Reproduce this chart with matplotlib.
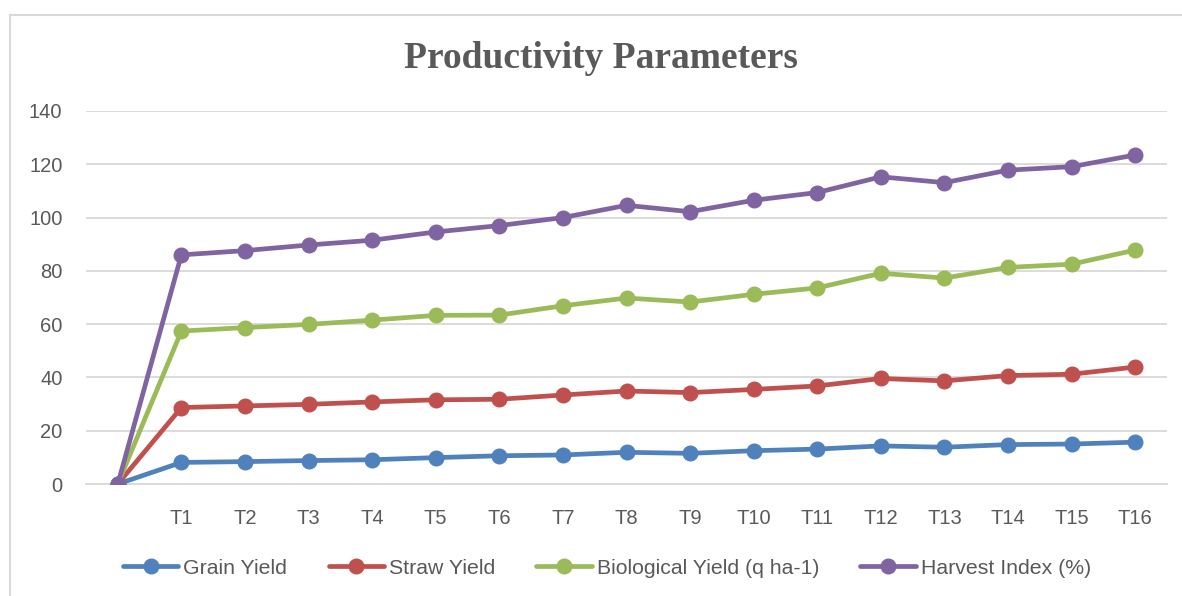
import matplotlib
matplotlib.use("Agg")
import matplotlib.pyplot as plt
from matplotlib.lines import Line2D

categories = ["", "T1", "T2", "T3", "T4", "T5", "T6", "T7", "T8", "T9", "T10",
              "T11", "T12", "T13", "T14", "T15", "T16"]
grain_yield = [0, 8.1, 8.4, 8.8, 9.1, 9.9, 10.6, 10.9, 11.9, 11.5, 12.5,
               13.1, 14.3, 13.8, 14.8, 15.0, 15.7]
straw_yield = [0, 28.7, 29.3, 29.9, 30.8, 31.6, 31.8, 33.4, 34.9, 34.3, 35.5,
               36.8, 39.6, 38.7, 40.7, 41.2, 43.9]
biological_yield = [0, 57.4, 58.7, 59.9, 61.5, 63.3, 63.4, 66.9, 69.8, 68.3, 71.2,
                    73.6, 79.1, 77.3, 81.3, 82.5, 87.8]
harvest_index = [0, 86.0, 87.6, 89.7, 91.5, 94.6, 97.0, 100.0, 104.6, 102.2, 106.5,
                 109.4, 115.3, 113.1, 117.8, 119.1, 123.5]
series_names = ["Grain Yield", "Straw Yield", "Biological Yield (q ha-1)", "Harvest Index (%)"]
colors = ["#4F81BD", "#C0504D", "#9BBB59", "#8064A2"]
yticks = [0, 20, 40, 60, 80, 100, 120, 140]

W, H = 1182, 596
fig = plt.figure(figsize=(W / 100, H / 100), dpi=100)
ax = fig.add_axes([86 / W, 1 - 484 / H, (1167 - 86) / W, (484 - 111) / H])

x = list(range(len(categories)))
for vals, name, c in zip([grain_yield, straw_yield, biological_yield, harvest_index],
                         series_names, colors):
    ax.plot(x, vals, color=c, lw=3.4, marker="o", ms=10.5, label=name,
            solid_capstyle="round", zorder=3)

ax.set_xlim(-0.5, len(categories) - 0.5)
ax.set_ylim(0, 140)
ax.set_yticks(yticks)
ax.set_xticks(x)
ax.set_xticklabels(categories)
ax.grid(axis="y", color="#D9D9D9", lw=1.3, zorder=0)
ax.set_axisbelow(True)
for s in ["top", "right", "left"]:
    ax.spines[s].set_visible(False)
ax.spines["bottom"].set_color("#D9D9D9")
ax.spines["bottom"].set_linewidth(1.3)
ax.tick_params(axis="both", length=0, labelsize=14.5, labelcolor="#595959",
               labelfontfamily="Liberation Sans")
ax.tick_params(axis="y", pad=17)
ax.tick_params(axis="x", pad=18)

fig.text(601 / W, 1 - 58 / H, "Productivity Parameters", ha="center", va="center",
         fontsize=27, fontweight="bold", family="Liberation Serif", color="#595959")

leg = fig.legend(loc="center", bbox_to_anchor=(607 / W, 1 - 568 / H), ncol=4,
                 frameon=False, handlelength=2.6, columnspacing=1.95, handletextpad=0.23,
                 prop={"family": "Liberation Sans", "size": 15.3})
for t in leg.get_texts():
    t.set_color("#595959")

fig.add_artist(Line2D([10 / W, 1], [1 - 15 / H, 1 - 15 / H], transform=fig.transFigure,
                      color="#D9D9D9", lw=1.5))
fig.add_artist(Line2D([10 / W, 10 / W], [0, 1 - 15 / H], transform=fig.transFigure,
                      color="#D9D9D9", lw=1.5))

fig.savefig("out.png", dpi=100)
